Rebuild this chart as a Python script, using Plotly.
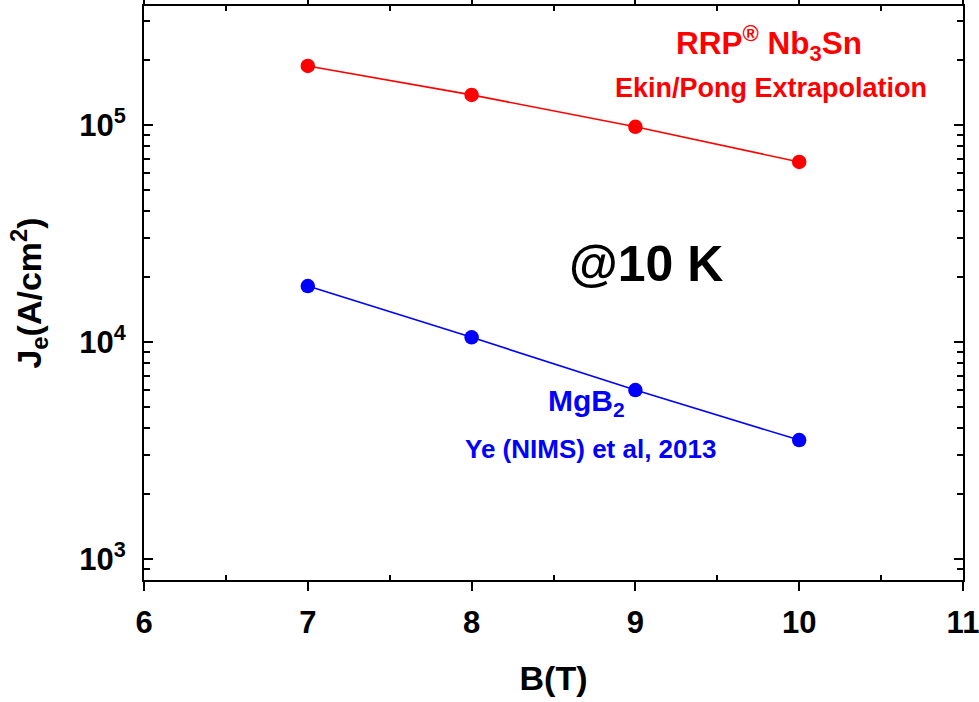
import plotly.graph_objects as go

B = [7, 8, 9, 10]
je_nb3sn = [1.87e5, 1.375e5, 9.8e4, 6.75e4]
je_mgb2 = [1.81e4, 1.05e4, 6.0e3, 3.53e3]

x_ticks = [6, 7, 8, 9, 10, 11]
x_minor = [6.5, 7.5, 8.5, 9.5, 10.5]
y_ticks = [1e3, 1e4, 1e5]
y_tick_text = ["10<sup>3</sup>", "10<sup>4</sup>", "10<sup>5</sup>"]
y_minor = [m * 10 ** d for d in (2, 3, 4, 5) for m in range(2, 10)]

RED = "#FF0000"
BLUE = "#0000FF"
FONT = "Liberation Sans, Arial, sans-serif"

fig = go.Figure()
fig.add_trace(go.Scatter(x=B, y=je_nb3sn, mode="lines+markers",
                         line=dict(color=RED, width=1.6),
                         marker=dict(color=RED, size=14.5), showlegend=False))
fig.add_trace(go.Scatter(x=B, y=je_mgb2, mode="lines+markers",
                         line=dict(color=BLUE, width=1.6),
                         marker=dict(color=BLUE, size=14.5), showlegend=False))

fig.update_layout(
    width=979, height=702,
    margin=dict(l=144, r=16, t=6, b=122),
    plot_bgcolor="white", paper_bgcolor="white",
    font=dict(family=FONT, color="black"),
    xaxis=dict(
        range=[6, 11], tickvals=x_ticks, ticktext=[f"<b>{v}</b>" for v in x_ticks],
        ticks="outside", ticklen=9, tickwidth=2, tickcolor="black",
        minor=dict(tickvals=x_minor, ticks="inside", ticklen=5, tickwidth=2, tickcolor="black"),
        showline=True, linecolor="black", linewidth=2, mirror="allticks",
        showgrid=False, zeroline=False, automargin=False,
        ticklabeloverflow="allow",
        tickfont=dict(size=31, family=FONT, color="black"),
        ticklabelstandoff=5,
        title=dict(text="<b>B(T)</b>", font=dict(size=34, family=FONT, color="black"), standoff=27),
    ),
    yaxis=dict(
        type="log", range=[2.903, 5.548],
        tickvals=y_ticks, ticktext=[f"<b>{t}</b>" for t in y_tick_text],
        ticks="inside", ticklen=9, tickwidth=2, tickcolor="black",
        minor=dict(tickvals=y_minor, ticks="inside", ticklen=6, tickwidth=2, tickcolor="black"),
        showline=True, linecolor="black", linewidth=2, mirror="allticks",
        showgrid=False, zeroline=False, automargin=False,
        tickfont=dict(size=31, family=FONT, color="black"),
        ticklabelstandoff=10,
        title=dict(text="<b>J<sub>e</sub>(A/cm<sup>2</sup>)</b>", font=dict(size=34, family=FONT, color="black"), standoff=27),
    ),
)

# annotation text positions in paper coordinates of the plot area
annos = [
    ("<b>RRP<sup>®</sup> Nb<sub>3</sub>Sn</b>", 0.763, 0.935, 31.5, RED),
    ("<b>Ekin/Pong Extrapolation</b>", 0.765, 0.857, 27, RED),
    ("<b>@10 K</b>", 0.613, 0.551, 50, "black"),
    ("<b>MgB<sub>2</sub></b>", 0.540, 0.31, 30, BLUE),
    ("<b>Ye (NIMS) et al, 2013</b>", 0.545, 0.229, 26, BLUE),
]
for text, ax, ay, size, col in annos:
    fig.add_annotation(text=text, x=ax, y=ay, xref="paper", yref="paper",
                       showarrow=False, xanchor="center", yanchor="middle",
                       font=dict(size=size, family=FONT, color=col))

fig.write_html("out.html")
